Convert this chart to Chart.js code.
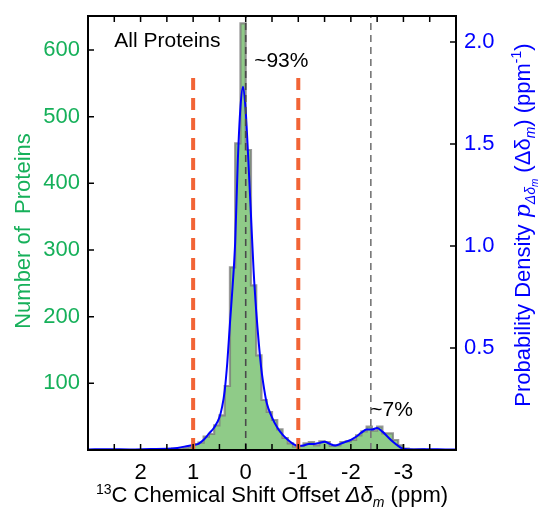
<!DOCTYPE html>
<html>
<head>
<meta charset="utf-8">
<script src="https://cdn.jsdelivr.net/npm/chart.js@4"></script>
<style>
  html, body { margin: 0; padding: 0; background: #fff; }
  #wrap { width: 541px; height: 511px; position: relative; }
</style>
</head>
<body>
<div id="wrap"><canvas id="shiftChart"></canvas></div>
<script>
// histogram bins (ppm centres, 0.1 ppm wide) and counts
const binWidth = 0.1;
const binCenters = [1.45, 1.35, 1.25, 1.15, 1.05, 0.95, 0.85, 0.75, 0.65, 0.55,
  0.45, 0.35, 0.25, 0.15, 0.05, -0.05, -0.15, -0.25, -0.35, -0.45,
  -0.55, -0.65, -0.75, -0.85, -0.95, -1.05, -1.15, -1.25, -1.35, -1.45,
  -1.55, -1.65, -1.75, -1.85, -1.95, -2.05, -2.15, -2.25, -2.35, -2.45,
  -2.55, -2.65, -2.75, -2.85, -2.95, -3.05, -3.15, -3.25, -3.35, -3.45];
const binCounts = [1, 2, 2, 3, 4, 9, 11, 20, 24, 37,
  52, 96, 274, 460, 640, 450, 247, 142, 75, 57,
  45, 31, 18, 10, 5, 6, 10, 12, 7, 13,
  12, 6, 7, 12, 13, 15, 22, 28, 35, 29,
  35, 25, 25, 15, 7, 2, 1, 1, 1, 0];

// probability density curve
const curveX = [3.0, 2.6, 2.2, 1.8, 1.5, 1.3, 1.1, 1.0, 0.9, 0.8, 0.7, 0.6, 0.5, 0.45, 0.4,
  0.35, 0.3, 0.25, 0.2, 0.15, 0.1, 0.05, 0.0, -0.05, -0.1, -0.15, -0.2, -0.25, -0.3, -0.35,
  -0.4, -0.5, -0.6, -0.7, -0.8, -0.9, -1.0, -1.1, -1.2, -1.3, -1.4, -1.5, -1.6, -1.7, -1.8,
  -1.9, -2.0, -2.1, -2.2, -2.3, -2.4, -2.5, -2.6, -2.7, -2.8, -2.9, -3.0, -3.2, -3.5, -3.8, -4.0];
const curveDensity = [0.003, 0.004, 0.003, 0.005, 0.006, 0.01, 0.02, 0.025, 0.03, 0.05, 0.08, 0.11, 0.16, 0.21, 0.29,
  0.43, 0.62, 0.8, 1.02, 1.42, 1.68, 1.78, 1.66, 1.42, 1.15, 0.88, 0.68, 0.52, 0.39, 0.3,
  0.23, 0.16, 0.11, 0.075, 0.05, 0.03, 0.02, 0.022, 0.03, 0.03, 0.035, 0.04, 0.03, 0.022, 0.03,
  0.04, 0.05, 0.065, 0.085, 0.1, 0.1, 0.108, 0.09, 0.065, 0.04, 0.02, 0.006, 0.003, 0.004, 0.003, 0.003];

const xTickLabels = [2, 1, 0, -1, -2, -3];
const cutoffLines = [1, -1];       // red dashed
const centreLines = [0, -2.38];    // grey dash-dot

const FONT = "'Liberation Sans', Arial, Helvetica, sans-serif";
const GREEN = '#16b05a';
const BLUE = '#0000ff';
const countMax = 651;
const densityMax = 2.127;

// stepped outline of the histogram: each point starts a bin (axis is reversed)
const lastBin = binCenters.length - 1;
const histPoints = [{ x: binCenters[0] + binWidth / 2, y: 0 }];
binCenters.forEach((c, i) => histPoints.push({ x: c + binWidth / 2, y: binCounts[i] }));
histPoints.push({ x: binCenters[lastBin] - binWidth / 2, y: 0 });

const curvePoints = curveX.map((x, i) => ({ x: x, y: curveDensity[i] }));

const vLines = [];
cutoffLines.forEach(v => vLines.push({
  type: 'line', data: [{ x: v, y: 0 }, { x: v, y: 558 }], yAxisID: 'y',
  borderColor: '#f26436', borderWidth: 4, borderDash: [12, 8], pointRadius: 0, order: 1
}));
centreLines.forEach((v, i) => vLines.push({
  type: 'line', data: [{ x: v, y: 0 }, { x: v, y: countMax }], yAxisID: 'y',
  borderColor: i === 0 ? '#4a4a4a' : '#777777', borderWidth: 1.6, borderDash: [7, 5], pointRadius: 0, order: 0
}));

function drawPieces(ctx, pieces, cx, cy, rot, color) {
  ctx.save();
  ctx.translate(cx, cy);
  ctx.rotate(rot);
  ctx.fillStyle = color;
  ctx.textBaseline = 'alphabetic';
  ctx.textAlign = 'left';
  let total = 0;
  pieces.forEach(p => { ctx.font = p.font; total += ctx.measureText(p.text).width; });
  let x = -total / 2;
  pieces.forEach(p => {
    ctx.font = p.font;
    ctx.fillText(p.text, x, p.dy || 0);
    x += ctx.measureText(p.text).width;
  });
  ctx.restore();
}

const decorPlugin = {
  id: 'decor',
  afterDatasetsDraw(chart) {
    const ctx = chart.ctx;
    const a = chart.chartArea;
    const xs = chart.scales.x, ys = chart.scales.y, y1 = chart.scales.y1;

    // inward tick marks
    ctx.save();
    ctx.strokeStyle = '#000';
    ctx.lineWidth = 1.5;
    ctx.beginPath();
    xs.ticks.forEach(t => {
      if (t.value <= xs.min || t.value >= xs.max) return;
      const px = xs.getPixelForValue(t.value);
      ctx.moveTo(px, a.bottom); ctx.lineTo(px, a.bottom - 6);
      ctx.moveTo(px, a.top); ctx.lineTo(px, a.top + 6);
    });
    ys.ticks.forEach(t => {
      if (t.value <= 0 || t.value % 100 !== 0) return;
      const py = ys.getPixelForValue(t.value);
      ctx.moveTo(a.left, py); ctx.lineTo(a.left + 6, py);
    });
    y1.ticks.forEach(t => {
      if (t.value <= 0 || Math.abs(t.value * 2 - Math.round(t.value * 2)) > 1e-6) return;
      const py = y1.getPixelForValue(t.value);
      ctx.moveTo(a.right, py); ctx.lineTo(a.right - 6, py);
    });
    ctx.stroke();

    // frame
    ctx.lineWidth = 2;
    ctx.strokeRect(a.left, a.top, a.right - a.left, a.bottom - a.top);
    ctx.restore();

    // annotations
    ctx.save();
    ctx.fillStyle = '#000';
    ctx.font = '21px ' + FONT;
    ctx.textBaseline = 'alphabetic';
    ctx.fillText('All Proteins', xs.getPixelForValue(2.5), ys.getPixelForValue(605));
    ctx.fillText('~93%', xs.getPixelForValue(-0.16), ys.getPixelForValue(575));
    ctx.fillText('~7%', xs.getPixelForValue(-2.37), ys.getPixelForValue(51));
    ctx.restore();

    // axis titles
    const f22 = '22px ' + FONT, f14 = '14px ' + FONT;
    const i22 = 'italic 22px ' + FONT, i14 = 'italic 14px ' + FONT, i10 = 'italic 10px ' + FONT;
    drawPieces(ctx, [{ text: 'Number of  Proteins', font: f22 }], 30, 231, -Math.PI / 2, GREEN);
    drawPieces(ctx, [
      { text: 'Probability Density ', font: f22 },
      { text: 'p', font: 'italic 22px DejaVu Serif, serif' },
      { text: 'Δδ', font: i14, dy: 5 },
      { text: 'm', font: i10, dy: 8 },
      { text: ' (Δδ', font: f22 },
      { text: 'm', font: i14, dy: 5 },
      { text: ') (ppm', font: f22 },
      { text: '-1', font: f14, dy: -9 },
      { text: ')', font: f22 }
    ], 530, 225, -Math.PI / 2, BLUE);
    drawPieces(ctx, [
      { text: '13', font: f14, dy: -8 },
      { text: 'C Chemical Shift Offset ', font: f22 },
      { text: 'Δδ', font: i22 },
      { text: 'm', font: i14, dy: 5 },
      { text: ' (ppm)', font: f22 }
    ], 272, 502, 0, '#000');
  }
};

function noPad(s) {
  s.paddingTop = 0; s.paddingBottom = 0; s.paddingLeft = 0; s.paddingRight = 0;
}

const ctx = document.getElementById('shiftChart').getContext('2d');
new Chart(ctx, {
  type: 'line',
  data: {
    datasets: [
      {
        label: 'Number of Proteins',
        data: histPoints,
        yAxisID: 'y',
        stepped: 'before',
        borderColor: 'rgba(120,120,120,0.75)',
        borderWidth: 2.2,
        backgroundColor: '#8fcb88',
        fill: 'origin',
        pointRadius: 0,
        order: 3
      },
      {
        label: 'Probability Density',
        data: curvePoints,
        yAxisID: 'y1',
        borderColor: BLUE,
        borderWidth: 2,
        cubicInterpolationMode: 'monotone',
        fill: false,
        pointRadius: 0,
        order: 2
      },
      ...vLines
    ]
  },
  options: {
    responsive: true,
    maintainAspectRatio: false,
    animation: false,
    layout: { padding: { top: 16, left: 0, right: 0, bottom: 0 } },
    plugins: { legend: { display: false }, tooltip: { enabled: false } },
    scales: {
      x: {
        type: 'linear',
        reverse: true,
        min: -4,
        max: 3,
        grid: { display: false, drawTicks: false },
        border: { display: false },
        ticks: {
          stepSize: 0.5,
          autoSkip: false,
          maxRotation: 0,
          padding: 10,
          color: '#000',
          font: { size: 22, family: FONT },
          callback: v => xTickLabels.includes(v) ? String(v) : ''
        },
        afterFit: s => { s.height = 61; noPad(s); }
      },
      y: {
        position: 'left',
        min: 0,
        max: countMax,
        grid: { display: false, drawTicks: false },
        border: { display: false },
        ticks: {
          stepSize: 100,
          autoSkip: false,
          padding: 8,
          color: GREEN,
          font: { size: 22, family: FONT },
          callback: v => (v > 0 && v % 100 === 0) ? String(v) : ''
        },
        afterFit: s => { s.width = 88; noPad(s); }
      },
      y1: {
        position: 'right',
        min: 0,
        max: densityMax,
        grid: { display: false, drawTicks: false },
        border: { display: false },
        ticks: {
          stepSize: 0.5,
          autoSkip: false,
          padding: 8,
          color: BLUE,
          font: { size: 22, family: FONT },
          callback: v => (v > 0 && Math.abs(v * 2 - Math.round(v * 2)) < 1e-6) ? v.toFixed(1) : ''
        },
        afterFit: s => { s.width = 85; noPad(s); }
      }
    }
  },
  plugins: [decorPlugin]
});
</script>
</body>
</html>
